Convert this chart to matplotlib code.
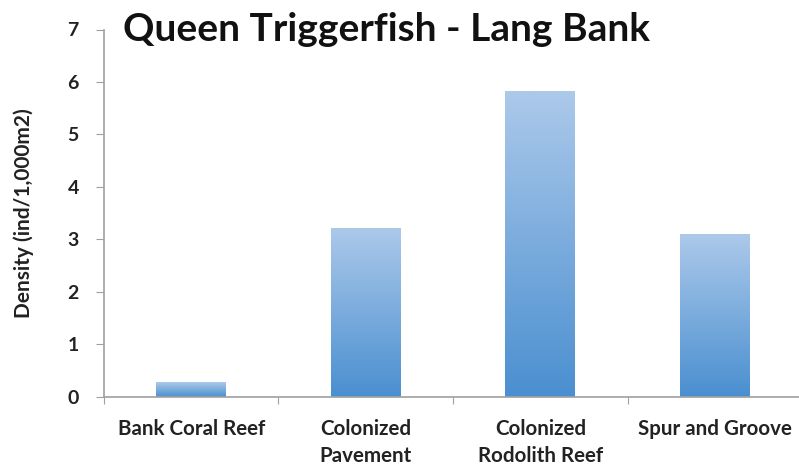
import matplotlib
matplotlib.use("Agg")
from matplotlib import pyplot as plt
import numpy as np

categories = ["Bank Coral Reef", "Colonized\nPavement", "Colonized\nRodolith Reef", "Spur and Groove"]
density = [0.28, 3.22, 5.82, 3.1]

plt.rcParams['font.family'] = ['Lato', 'DejaVu Sans']
plt.rcParams['font.weight'] = 'bold'

fig = plt.figure(figsize=(7.99, 4.72), dpi=100)
ax = fig.add_axes([0.130, 0.159, 0.874, 0.7785])

x = np.arange(len(categories))
bars = ax.bar(x, density, width=0.4, color='none', edgecolor='none')

# vertical gradient fill for each bar
cmap = matplotlib.colors.LinearSegmentedColormap.from_list("grad", ["#4a8fd0", "#acc9ea"])
grad = np.linspace(0, 1, 256).reshape(-1, 1)
for bar in bars:
    x0, w, h = bar.get_x(), bar.get_width(), bar.get_height()
    im = ax.imshow(grad, extent=[x0, x0 + w, 0, h], origin='lower', cmap=cmap,
                   aspect='auto', zorder=2)
    im.set_clip_path(bar)

ax.set_xlim(-0.5, len(categories) - 0.5)
ax.set_ylim(0, 7)
ax.set_yticks(range(0, 8))
ax.set_xticks(np.arange(-0.5, len(categories), 1.0))
ax.set_xticklabels([])
ax.set_xticks(x, minor=True)
ax.set_xticklabels(categories, minor=True, fontsize=14.8, fontweight='bold', color='#222222',
                   linespacing=1.4)
ax.tick_params(axis='x', which='minor', length=0, pad=16)
ax.tick_params(axis='x', which='major', length=5, color='#a0a0a0', direction='out')
ax.tick_params(axis='y', length=6, color='#a0a0a0', labelsize=14, pad=12, labelcolor='#222222')

for s in ['top', 'right']:
    ax.spines[s].set_visible(False)
for s in ['left', 'bottom']:
    ax.spines[s].set_color('#a0a0a0')
    ax.spines[s].set_linewidth(1.2)

ax.set_ylabel("Density (ind/1,000m2)", fontsize=15, fontweight='bold', labelpad=24, color='#222222')
fig.text(0.154, 0.937, "Queen Triggerfish - Lang Bank", fontsize=28, fontweight='bold',
         va='center', ha='left', color='#111111')

plt.savefig('out.png', dpi=100)
plt.close(fig)
